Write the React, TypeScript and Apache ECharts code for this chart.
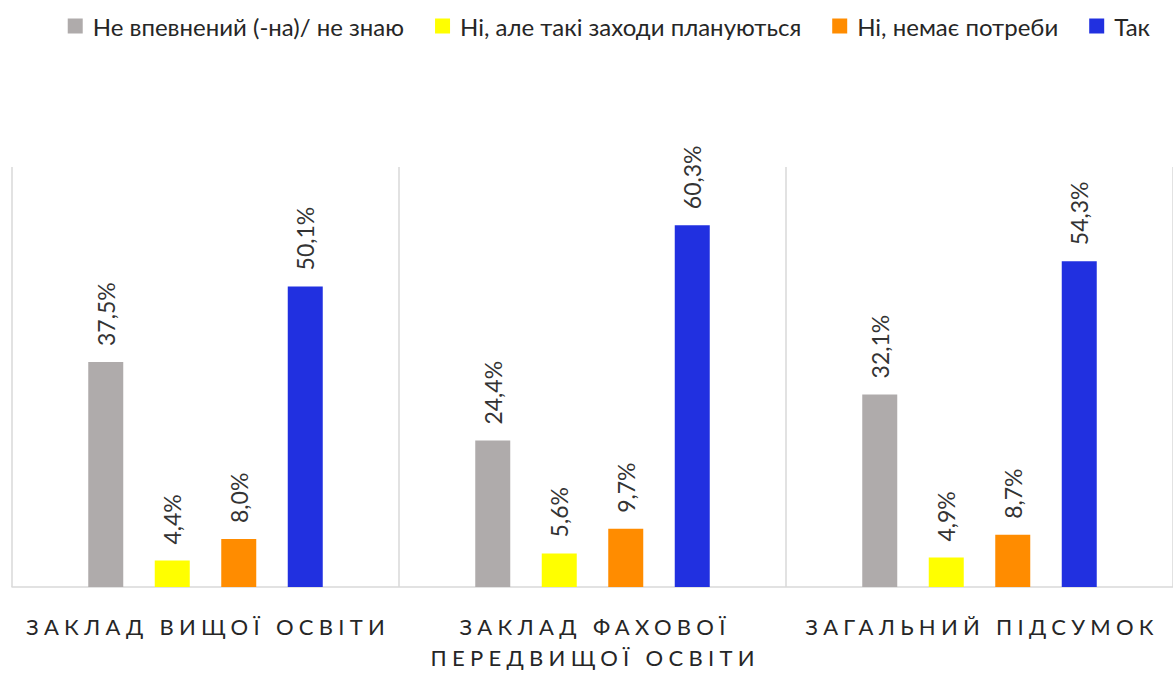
import React, { useEffect, useRef } from "react";
import * as echarts from "echarts";

const categories = ["ЗАКЛАД ВИЩОЇ ОСВІТИ", "ЗАКЛАД ФАХОВОЇ\nПЕРЕДВИЩОЇ ОСВІТИ", "ЗАГАЛЬНИЙ ПІДСУМОК"];
const seriesNames = ["Не впевнений (-на)/ не знаю", "Ні, але такі заходи плануються", "Ні, немає потреби", "Так"];
const notSure = [37.5, 24.4, 32.1];
const planned = [4.4, 5.6, 4.9];
const noNeed = [8.0, 9.7, 8.7];
const yes = [50.1, 60.3, 54.3];
const colors = ["#AFABAB", "#FFFF00", "#FF8C00", "#2130E0"];

const FONT = "Lato, 'Noto Sans', sans-serif";

export default function App() {
  const ref = useRef<HTMLDivElement>(null);
  useEffect(() => {
    document.body.style.margin = "0";
    const chart = echarts.init(ref.current!, null, { renderer: "svg" });
    const values = [notSure, planned, noNeed, yes];
    chart.setOption({
      animation: false,
      textStyle: { fontFamily: FONT },
      legend: {
        top: 9,
        right: 18,
        itemWidth: 15,
        itemHeight: 15,
        itemGap: 31,
        icon: "rect",
        textStyle: { fontSize: 24, color: "#262626", fontFamily: FONT, padding: [0, 0, 0, 5] },
        data: seriesNames,
      },
      grid: { left: 12, top: 167, width: 1167, height: 425, containLabel: false },
      xAxis: {
        type: "category",
        data: categories,
        axisLine: { lineStyle: { color: "#D9D9D9", width: 1.5 } },
        axisTick: { show: false },
        splitLine: { show: true, lineStyle: { color: "#D9D9D9", width: 1.5 } },
        axisLabel: {
          fontSize: 22,
          color: "#262626",
          margin: 24,
          lineHeight: 31,
          fontFamily: FONT,
          interval: 0,
        },
      },
      yAxis: {
        type: "value",
        min: 0,
        max: 70,
        show: false,
        splitLine: { show: false },
      },
      series: seriesNames.map((name, i) => ({
        name,
        type: "bar",
        data: values[i],
        barWidth: 35,
        barGap: "90%",
        itemStyle: { color: colors[i] },
        label: {
          show: true,
          position: "top",
          rotate: 90,
          align: "left",
          verticalAlign: "middle",
          distance: 16,
          fontSize: 23,
          color: "#333333",
          fontFamily: FONT,
          formatter: (p: any) => p.value.toFixed(1).replace(".", ",") + "%",
        },
      })),
    });
    // widen the category labels' tracking, as in the reference
    const lines = new Set(categories.join("\n").split("\n"));
    ref.current!.querySelectorAll("text").forEach((t) => {
      if (lines.has((t.textContent || "").trim())) {
        (t as SVGTextElement).style.letterSpacing = "5.3px";
        const tr = t.getAttribute("transform") || "";
        t.setAttribute("transform", tr + " translate(2.6 0)");
      }
    });
    return () => chart.dispose();
  }, []);
  return <div ref={ref} style={{ width: 1173, height: 673 }} />;
}
